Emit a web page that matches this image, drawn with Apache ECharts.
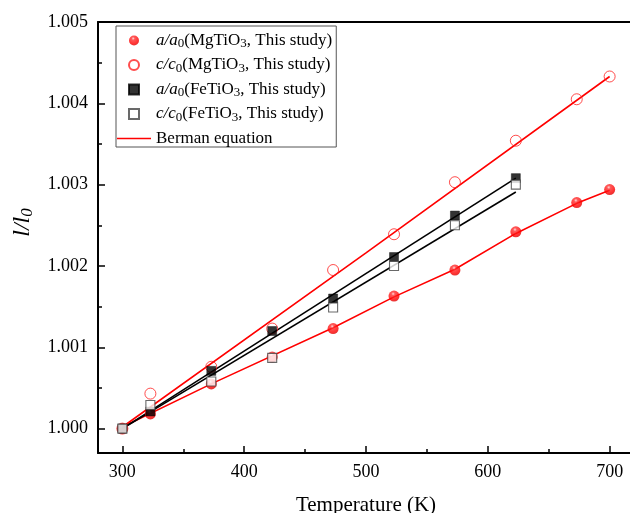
<!DOCTYPE html>
<html>
<head>
<meta charset="utf-8">
<script src="https://cdn.jsdelivr.net/npm/echarts@6/dist/echarts.min.js"></script>
<style>
html,body{margin:0;padding:0;background:#fff;}
#chart{width:630px;height:513px;}
</style>
</head>
<body>
<div id="chart"></div>
<script>
// ---- data ----
const tempMg = [300, 323, 373, 423, 473, 523, 573, 623, 673, 700];
const aMg = [1.00000, 1.00018, 1.00055, 1.00088, 1.00123, 1.00163, 1.00195, 1.00242, 1.00278, 1.00294];
const cMg = [1.00000, 1.00043, 1.00076, 1.00123, 1.00195, 1.00239, 1.00303, 1.00354, 1.00405, 1.00433];
const tempFe = [300, 323, 373, 423, 473, 523, 573, 623];
const aFe = [1.00000, 1.00021, 1.00071, 1.00120, 1.00160, 1.00211, 1.00262, 1.00308];
const cFe = [1.00000, 1.00029, 1.00058, 1.00087, 1.00149, 1.00200, 1.00250, 1.00300];

// Berman equation curves (read at a few temperatures)
const fitTaMg = [300, 373, 473, 523, 573, 623, 673, 700];
const fitaMg = [1.00002, 1.00055, 1.00124, 1.00162, 1.00196, 1.00240, 1.00277, 1.00293];
const fitTcMg = [300, 500, 700];
const fitcMg = [1.00002, 1.00216, 1.00433];
const fitTFe = [300, 623];
const fitaFe = [1.00000, 1.00308];
const fitcFe = [1.00000, 1.00291];

const xMajor = [300, 400, 500, 600, 700];
const xMinor = [350, 450, 550, 650];
const yMajor = [1.000, 1.001, 1.002, 1.003, 1.004, 1.005];
const yMinor = [1.0005, 1.0015, 1.0025, 1.0035, 1.0045];

function pairs(xs, ys) { return xs.map((x, i) => [x, ys[i]]); }

const serif = 'Liberation Serif';
const chart = echarts.init(document.getElementById('chart'), null, {renderer: 'canvas'});

const ball = {
  type: 'radial', x: 0.42, y: 0.3, r: 0.75,
  colorStops: [
    {offset: 0, color: '#ffd0d0'},
    {offset: 0.22, color: '#ff3030'},
    {offset: 0.7, color: '#ff0000'},
    {offset: 1, color: '#d40000'}
  ]
};

const rich = {
  it: {fontFamily: serif, fontStyle: 'italic', fontSize: 17, lineHeight: 20, color: '#000'},
  subr: {fontFamily: serif, fontSize: 13, lineHeight: 9, verticalAlign: 'bottom', color: '#000'},
  n: {fontFamily: serif, fontSize: 17, lineHeight: 20, color: '#000'}
};

function legendLabel(name) {
  if (name === 'aMg') return '{it|a/a}{subr|0}{n|(MgTiO}{subr|3}{n|, This study)}';
  if (name === 'cMg') return '{it|c/c}{subr|0}{n|(MgTiO}{subr|3}{n|, This study)}';
  if (name === 'aFe') return '{it|a/a}{subr|0}{n|(FeTiO}{subr|3}{n|, This study)}';
  if (name === 'cFe') return '{it|c/c}{subr|0}{n|(FeTiO}{subr|3}{n|, This study)}';
  return '{n|' + name + '}';
}

const squareIcon = 'path://M0,0L10,0L10,10L0,10Z';
const lineIcon = 'path://M0,0L34,0L34,1.6L0,1.6Z';

const axisTextStyle = {fontFamily: serif, fontSize: 18, color: '#000'};

const option = {
  backgroundColor: '#fff',
  animation: false,
  grid: {left: 98, right: -4, top: 22, bottom: 60, containLabel: false, outerBoundsMode: 'none'},
  legend: {
    data: [
      {name: 'aMg', icon: 'circle'},
      {name: 'cMg', icon: 'circle'},
      {name: 'aFe', icon: squareIcon},
      {name: 'cFe', icon: squareIcon},
      {name: 'Berman equation', icon: lineIcon}
    ],
    orient: 'vertical',
    left: 116,
    top: 26,
    padding: [6, 4, 0, 1],
    itemGap: 6,
    itemWidth: 34,
    itemHeight: 10,
    symbolKeepAspect: true,
    borderColor: '#555',
    borderWidth: 1,
    formatter: legendLabel,
    textStyle: {rich: rich, fontFamily: serif, fontSize: 17}
  },
  xAxis: [
    {
      type: 'value', min: 280, max: 720, position: 'bottom',
      axisLine: {show: true, lineStyle: {color: '#000', width: 2}},
      axisTick: {show: true, inside: true, length: 7, customValues: xMajor, lineStyle: {color: '#000', width: 1.5}},
      axisLabel: {customValues: xMajor, margin: 10, ...axisTextStyle},
      splitLine: {show: false},
      name: 'Temperature (K)', nameLocation: 'middle', nameGap: 42,
      nameTextStyle: {fontFamily: serif, fontSize: 21, color: '#000'}
    },
    {
      type: 'value', min: 280, max: 720, position: 'bottom',
      axisLine: {show: false},
      axisTick: {show: true, inside: true, length: 4, customValues: xMinor, lineStyle: {color: '#000', width: 1.5}},
      axisLabel: {show: false},
      splitLine: {show: false}
    },
    {
      type: 'value', min: 280, max: 720, position: 'top',
      axisLine: {show: true, lineStyle: {color: '#000', width: 2}},
      axisTick: {show: false}, axisLabel: {show: false}, splitLine: {show: false}
    }
  ],
  yAxis: [
    {
      type: 'value', min: 0.9997, max: 1.005, position: 'left',
      axisLine: {show: true, lineStyle: {color: '#000', width: 2}},
      axisTick: {show: true, inside: true, length: 7, customValues: yMajor, lineStyle: {color: '#000', width: 1.5}},
      axisLabel: {customValues: yMajor, margin: 10, formatter: v => v.toFixed(3), ...axisTextStyle},
      splitLine: {show: false},
      name: '{it|l/l}{sub|0}', nameLocation: 'middle', nameGap: 62, nameRotate: 90,
      nameTextStyle: {padding: [0, 0, 0, 30], rich: {
        it: {fontFamily: serif, fontStyle: 'italic', fontSize: 24, lineHeight: 26, color: '#000'},
        sub: {fontFamily: serif, fontStyle: 'italic', fontSize: 17, lineHeight: 14, verticalAlign: 'bottom', color: '#000'}
      }}
    },
    {
      type: 'value', min: 0.9997, max: 1.005, position: 'left',
      axisLine: {show: false},
      axisTick: {show: true, inside: true, length: 4, customValues: yMinor, lineStyle: {color: '#000', width: 1.5}},
      axisLabel: {show: false},
      splitLine: {show: false}
    }
  ],
  series: [
    {name: 'fit aMg', type: 'line', data: pairs(fitTaMg, fitaMg), symbol: 'none', lineStyle: {color: '#ff0000', width: 1.6}, itemStyle: {color: '#ff0000'}, z: 1},
    {name: 'Berman equation', type: 'line', data: pairs(fitTcMg, fitcMg), symbol: 'none', lineStyle: {color: '#ff0000', width: 1.6}, itemStyle: {color: '#ff0000'}, z: 1},
    {name: 'fit aFe', type: 'line', data: pairs(fitTFe, fitaFe), symbol: 'none', lineStyle: {color: '#000', width: 1.6}, itemStyle: {color: '#000'}, z: 1},
    {name: 'fit cFe', type: 'line', data: pairs(fitTFe, fitcFe), symbol: 'none', lineStyle: {color: '#000', width: 1.6}, itemStyle: {color: '#000'}, z: 1},
    {name: 'aMg', type: 'scatter', data: pairs(tempMg, aMg), symbol: 'circle', symbolSize: 11,
      itemStyle: {color: ball, borderWidth: 0}, z: 2},
    {name: 'cMg', type: 'scatter', data: pairs(tempMg, cMg), symbol: 'circle', symbolSize: 11,
      itemStyle: {color: 'rgba(255,255,255,0)', borderColor: '#ff2020', borderWidth: 1}, z: 3},
    {name: 'aFe', type: 'scatter', data: pairs(tempFe, aFe), symbol: 'rect', symbolSize: 9,
      itemStyle: {color: '#000', borderColor: '#000', borderWidth: 0.5}, z: 4},
    {name: 'cFe', type: 'scatter', data: pairs(tempFe, cFe), symbol: 'rect', symbolSize: 9,
      itemStyle: {color: '#fff', borderColor: '#444', borderWidth: 1.1}, z: 5}
  ]
};
chart.setOption(option);
</script>
</body>
</html>
